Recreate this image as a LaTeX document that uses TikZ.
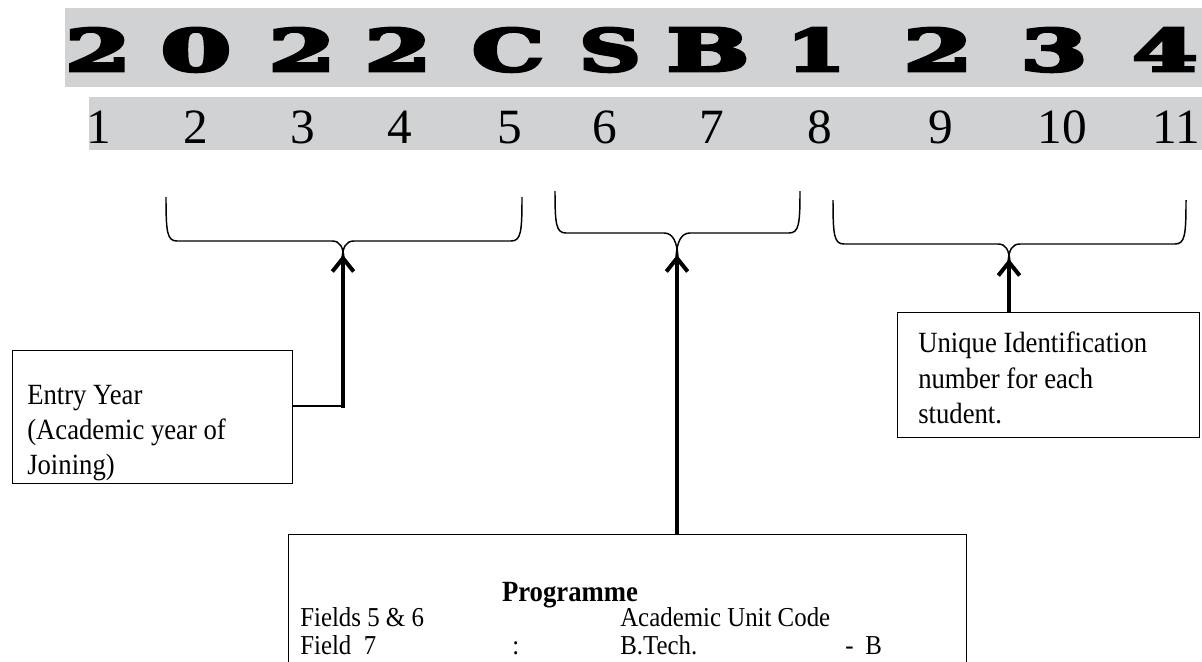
\documentclass[tikz,border=0pt]{standalone}
\usepackage{fontspec}
\setmainfont{Liberation Serif}
\newfontfamily\widefont{DejaVu Serif}[FakeBold=5]
\newfontfamily\narrowfont{Liberation Serif}[FakeStretch=0.91]
\usepackage{graphicx}
\usetikzlibrary{arrows.meta}
\definecolor{bandgray}{RGB}{209,210,212}

\begin{document}
\begin{tikzpicture}[x=0.75pt, y=-0.75pt,
  idbox/.style={draw, line width=0.9pt, inner sep=0pt, anchor=north west},
  idtext/.style={inner sep=0pt, anchor=north west, align=left, font=\narrowfont\fontsize{22}{26.4}\selectfont},
  progtext/.style={inner sep=0pt, anchor=base west, text height=14pt, text depth=3pt, font=\narrowfont\fontsize{20.5}{24}\selectfont},
  bigchar/.style={inner sep=0pt, anchor=base},
  numtext/.style={inner sep=0pt, anchor=base, font=\fontsize{37}{40}\selectfont},
  idbrace/.style={line width=1.1pt},
  idarrow/.style={line width=3pt, -{Straight Barb[length=10pt, width=16pt]}}]

\useasboundingbox (0,0) rectangle (1202,661);
\clip (0,0) rectangle (1202,661);

\fill[bandgray] (65,8) rectangle (1202,87);
\fill[bandgray] (89,97) rectangle (1202,150);

\foreach \ch/\cx/\w [count=\i] in {2/98/49, 0/196/53, 2/302/50, 2/398/50, C/508/54, S/610/46, B/708/62, 1/816/44, 2/938/52, 3/1054/50, 4/1165/49}
  \node[bigchar] (big\i) at (\cx,71) {\resizebox{\w pt}{32.25pt}{\widefont\bfseries\ch}};

\foreach \n/\cx [count=\i] in {1/99, 2/196, 3/303, 4/400, 5/510, 6/605, 7/712, 8/820, 9/941, 10/1062, 11/1176}
  \node[numtext] (num\i) at (\cx,143) {\n};

\draw[idbrace] (166,197) .. controls (166,232) and (167,241) .. (177,241) -- (332,241) .. controls (340,241) and (343,247) .. (344,258);
\draw[idbrace] (342,258) .. controls (343,247) and (346,241) .. (354,241) -- (511,241) .. controls (521,241) and (522,232) .. (522,197);
\draw[idbrace] (555,191) .. controls (555,224) and (556,233) .. (566,233) -- (664,233) .. controls (673,233) and (677,242) .. (678,257);
\draw[idbrace] (676,257) .. controls (677,242) and (681,233) .. (690,233) -- (789,233) .. controls (799,233) and (800,224) .. (800,191);
\draw[idbrace] (833,200) .. controls (833,235) and (834,244) .. (844,244) -- (998,244) .. controls (1006,244) and (1009,250) .. (1010,262);
\draw[idbrace] (1008,262) .. controls (1009,250) and (1012,244) .. (1020,244) -- (1175,244) .. controls (1185,244) and (1186,235) .. (1186,200);

\coordinate (tip1) at (343,255);
\coordinate (tip2) at (677,255);
\coordinate (tip3) at (1009,259);

\node[idbox, minimum width=210pt, minimum height=99.75pt] (entry) at (12,350) {};
\node[idtext] (entrytxt) at (27,385) {Entry Year\\(Academic year of\\Joining)};

\node[idbox, minimum width=226.5pt, minimum height=93.75pt] (uid) at (897,312) {};
\node[idtext] (uidtxt) at (918,332) {Unique Identification\\number for each\\student.};

\node[idbox, minimum width=508.5pt, minimum height=150pt] (prog) at (288,534) {};
\node[progtext, anchor=base, font=\narrowfont\fontsize{22}{24}\selectfont\bfseries] (progtitle) at (570,601) {Programme};
\node[progtext] (f56) at (300,626) {Fields 5 \& 6};
\node[progtext] (unit) at (620,626) {Academic Unit Code};
\node[progtext] (f7) at (300,654) {Field\ \ 7};
\node[progtext] (colon) at (512,654) {:};
\node[progtext] (btech) at (620,654) {B.Tech.};
\node[progtext] (dash) at (845,654) {-};
\node[progtext] (bcode) at (865,654) {B};

\coordinate (ecorner) at (343,406);
\draw[line width=1.1pt] (entry.east |- ecorner) -- (ecorner);
\draw[idarrow] ([yshift=-1.5pt]ecorner) -- (tip1);
\draw[idarrow] (prog.north -| tip2) -- (tip2);
\draw[idarrow] (uid.north -| tip3) -- (tip3);

\end{tikzpicture}
\end{document}
